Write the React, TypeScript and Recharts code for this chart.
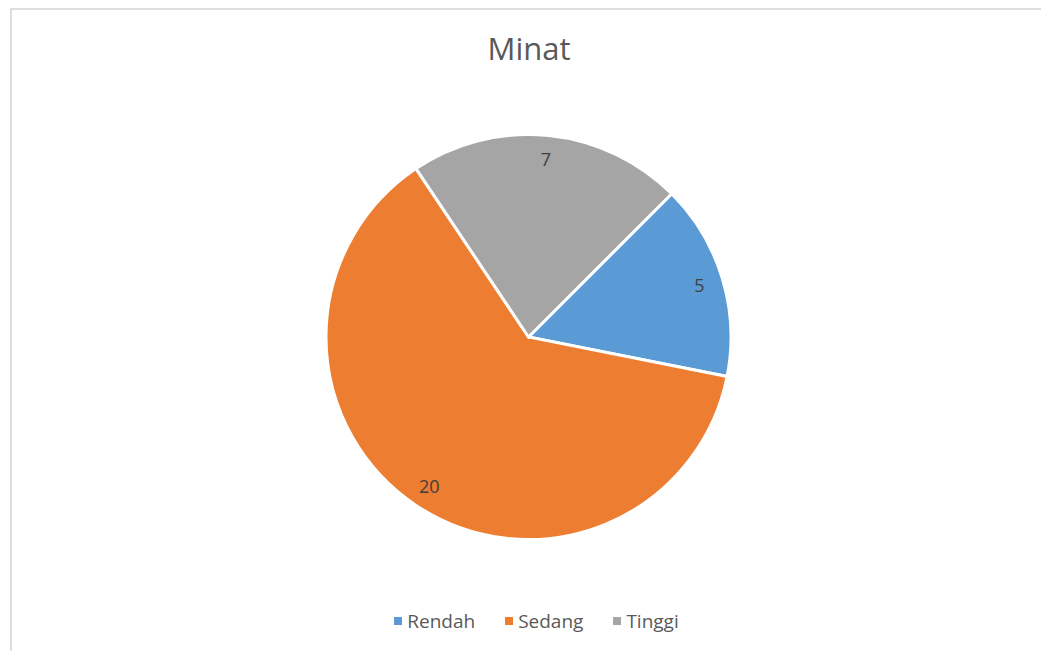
import { PieChart, Pie, Cell } from "recharts";

const categories = ["Rendah", "Sedang", "Tinggi"];
const values = [5, 20, 7];
const colors = ["#5B9BD5", "#ED7D31", "#A5A5A5"];

const data = categories.map((name, i) => ({ name, value: values[i] }));

const RADIAN = Math.PI / 180;

function renderLabel(props: any) {
  const { cx, cy, midAngle, outerRadius, value } = props;
  const r = outerRadius * 0.882;
  const x = cx + r * Math.cos(-midAngle * RADIAN);
  const y = cy + r * Math.sin(-midAngle * RADIAN);
  return (
    <text
      x={x}
      y={y}
      fill="#404040"
      fontSize={18}
      fontFamily="'Open Sans', sans-serif"
      textAnchor="middle"
      dominantBaseline="central"
    >
      {value}
    </text>
  );
}

export default function App() {
  return (
    <div
      style={{
        position: "fixed",
        left: 0,
        top: 0,
        width: 1041,
        height: 651,
        overflow: "hidden",
        background: "#fff",
      }}
    >
      <div
        style={{
          position: "absolute",
          left: 10,
          top: 8,
          width: 1100,
          height: 700,
          border: "2px solid #dedede",
        }}
      />
      <div
        style={{
          position: "absolute",
          left: 0,
          top: 27,
          width: 1058,
          textAlign: "center",
          fontFamily: "'Open Sans', sans-serif",
          fontSize: 31,
          color: "#595959",
          lineHeight: "42px",
        }}
      >
        Minat
      </div>
      <div style={{ position: "absolute", left: 0, top: 0 }}>
        <PieChart width={1041} height={651} margin={{ top: 0, right: 0, bottom: 0, left: 0 }}>
          <Pie
            data={data}
            dataKey="value"
            nameKey="name"
            cx={528.5}
            cy={337}
            outerRadius={202.5}
            startAngle={45}
            endAngle={-315}
            stroke="#ffffff"
            strokeWidth={3}
            label={renderLabel}
            labelLine={false}
            isAnimationActive={false}
          >
            {data.map((d, i) => (
              <Cell key={d.name} fill={colors[i]} />
            ))}
          </Pie>
        </PieChart>
      </div>
      <div
        style={{
          position: "absolute",
          left: 0,
          top: 607,
          width: 1073,
          display: "flex",
          justifyContent: "center",
          fontFamily: "'Open Sans', sans-serif",
          fontSize: 19,
          color: "#595959",
          lineHeight: "28px",
        }}
      >
        {categories.map((c, i) => (
          <div
            key={c}
            style={{ display: "flex", alignItems: "center", marginRight: i < categories.length - 1 ? 30 : 0 }}
          >
            <span
              style={{
                width: 8,
                height: 8,
                background: colors[i],
                marginRight: 5,
                display: "inline-block",
              }}
            />
            <span>{c}</span>
          </div>
        ))}
      </div>
    </div>
  );
}
